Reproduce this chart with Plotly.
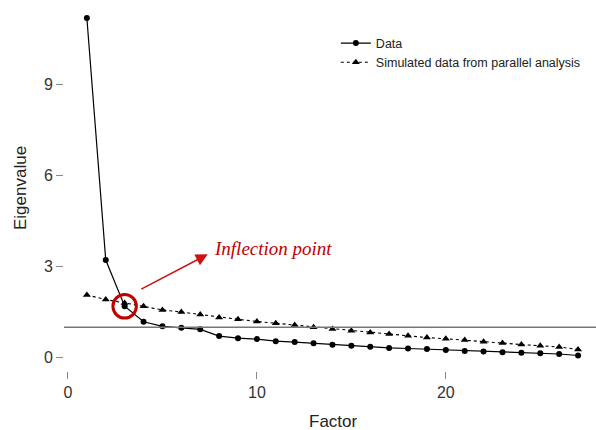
import plotly.graph_objects as go

factors = list(range(1, 28))
data_eigen = [11.17, 3.21, 1.69, 1.18, 1.03, 0.98, 0.93, 0.71, 0.64, 0.61, 0.54, 0.51, 0.47, 0.42,
              0.39, 0.36, 0.32, 0.30, 0.28, 0.25, 0.22, 0.20, 0.18, 0.16, 0.14, 0.12, 0.07]
sim_eigen = [2.06, 1.91, 1.80, 1.69, 1.57, 1.50, 1.42, 1.32, 1.26, 1.19, 1.13, 1.07, 1.00, 0.94,
             0.88, 0.83, 0.78, 0.72, 0.66, 0.62, 0.58, 0.52, 0.48, 0.43, 0.39, 0.35, 0.27]
x_ticks = [0, 10, 20]
y_ticks = [0, 3, 6, 9]
ref_line = 1
inflection_factor = 3
inflection_value = 1.69

fig = go.Figure()
fig.add_trace(go.Scatter(
    x=factors, y=data_eigen, mode="lines+markers", name="Data",
    line=dict(color="black", width=1.2),
    marker=dict(symbol="circle", size=6, color="black"),
))
fig.add_trace(go.Scatter(
    x=factors, y=sim_eigen, mode="lines+markers", name="Simulated data from parallel analysis",
    line=dict(color="black", width=1.1, dash="3px,3px"),
    marker=dict(symbol="triangle-up", size=7, color="black"),
))

fig.add_shape(type="line", xref="paper", yref="y", x0=0, x1=1, y0=ref_line, y1=ref_line,
              line=dict(color="#777777", width=1.5))

# red circle around inflection point
fig.add_shape(type="circle", xref="x", yref="y",
              x0=inflection_factor - 0.62, x1=inflection_factor + 0.62,
              y0=inflection_value - 0.39, y1=inflection_value + 0.39,
              line=dict(color="#c00000", width=3))

fig.add_annotation(
    x=7.4, y=3.4, ax=3.8, ay=2.23, xref="x", yref="y", axref="x", ayref="y",
    text="", showarrow=True, arrowhead=2, arrowsize=1.6, arrowwidth=1.5, arrowcolor="#d01010",
)
fig.add_annotation(
    x=7.65, y=3.6, xref="x", yref="y", text="<i>Inflection point</i>", showarrow=False,
    xanchor="left", yanchor="middle",
    font=dict(family="Liberation Serif, Times New Roman, serif", size=19, color="#c00000"),
)

# axis titles (positions given in pixels, converted below)
fig.add_annotation(
    x=333, y=421, xref="paper", yref="paper", text="Factor", showarrow=False,
    xanchor="center", yanchor="middle",
    font=dict(size=17, color="#222222"),
)
fig.add_annotation(
    x=20, y=188, xref="paper", yref="paper", text="Eigenvalue", showarrow=False,
    textangle=-90, xanchor="center", yanchor="middle",
    font=dict(size=17, color="#222222"),
)

fig.update_layout(
    width=596, height=430,
    margin=dict(l=64, r=0, t=5, b=59),
    paper_bgcolor="white", plot_bgcolor="white",
    font=dict(family="Liberation Sans, Arial, sans-serif", size=16, color="#333333"),
    showlegend=True,
    legend=dict(x=0.511, y=0.936, xanchor="left", yanchor="top", bgcolor="rgba(0,0,0,0)",
                font=dict(size=12.5, color="#222222"), itemwidth=30, tracegroupgap=2),
    xaxis=dict(range=[-0.21, 27.95], tickvals=x_ticks, showgrid=False, zeroline=False,
               showline=False, ticks="outside", ticklen=7, tickcolor="#888888", automargin=False,
               tickfont=dict(size=16, color="#333333")),
    yaxis=dict(range=[-0.44, 11.6], tickvals=y_ticks, showgrid=False, zeroline=False,
               showline=False, ticks="outside", ticklen=7, tickcolor="#888888", automargin=False,
               tickfont=dict(size=16, color="#333333")),
)

# convert title annotation positions from pixels to paper coordinates
pw, ph = 596 - 64 - 0, 430 - 5 - 59
for ann in fig.layout.annotations:
    if ann.xref == "paper" and ann.text in ("Factor", "Eigenvalue"):
        px, py = ann.x, ann.y
        ann.x = (px - 64) / pw
        ann.y = (430 - 59 - py) / ph

fig.write_html(
    "out.html",
    config={"displayModeBar": False},
    post_script="document.body.style.margin='0';document.body.style.overflow='hidden';",
)
